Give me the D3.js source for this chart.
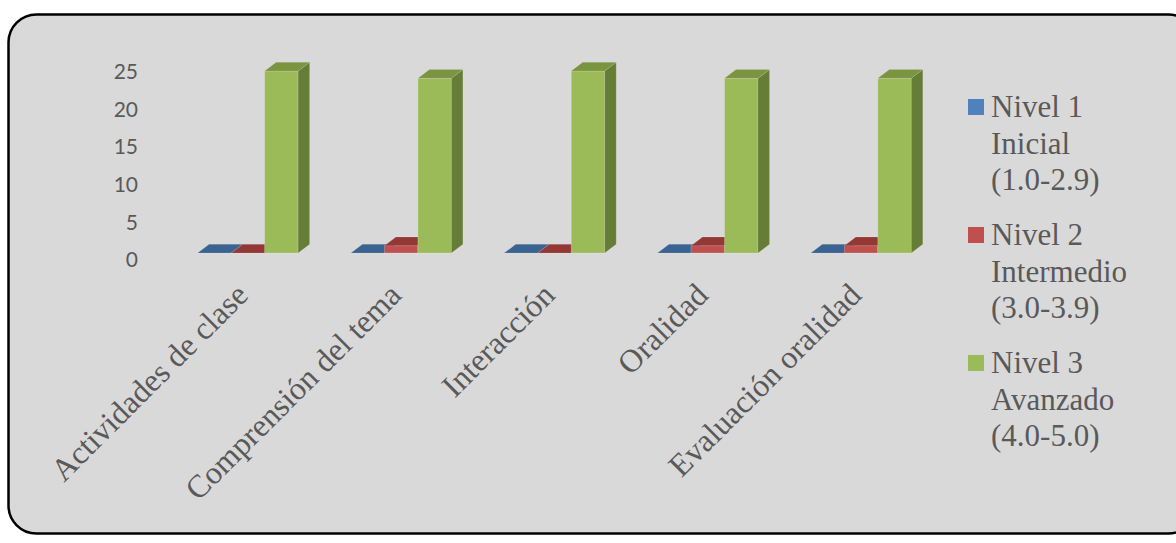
<!DOCTYPE html>
<html>
<head>
<meta charset="utf-8">
<script src="https://cdn.jsdelivr.net/npm/d3@7"></script>
<style>
  html, body { margin: 0; padding: 0; background: #ffffff; }
  svg { display: block; }
</style>
</head>
<body>
<svg id="chart" width="1176" height="543"></svg>
<script>
// Categories and counts per level
const categories = ["Actividades de clase", "Comprensión del tema", "Interacción", "Oralidad", "Evaluación oralidad"];
const nivel1 = [0, 0, 0, 0, 0];
const nivel2 = [0, 1, 0, 1, 1];
const nivel3 = [25, 24, 25, 24, 24];
const seriesKeys = ["n1", "n2", "n3"];
const seriesLabels = [
  ["Nivel 1", "Inicial", "(1.0-2.9)"],
  ["Nivel 2", "Intermedio", "(3.0-3.9)"],
  ["Nivel 3", "Avanzado", "(4.0-5.0)"]
];
const yTicks = [0, 5, 10, 15, 20, 25];

const palette = {
  n1: { front: "#4f81bd", top: "#3b6391", side: "#34587f" },
  n2: { front: "#c0504d", top: "#943836", side: "#7f302e" },
  n3: { front: "#9bbb59", top: "#7a9440", side: "#667d37" }
};
const textGray = "#595959";

const rows = categories.map((c, i) => ({ cat: c, n1: nivel1[i], n2: nivel2[i], n3: nivel3[i] }));

const svg = d3.select("#chart");

// Chart area panel
svg.append("rect")
  .attr("x", 8.5).attr("y", 14.5)
  .attr("width", 1188).attr("height", 519)
  .attr("rx", 28).attr("ry", 28)
  .attr("fill", "#d9d9d9")
  .attr("stroke", "#000").attr("stroke-width", 2.5);

// Scales
const x0 = d3.scaleBand().domain(categories).range([171.2, 937.7]).paddingInner(0).paddingOuter(0);
const x1 = d3.scaleBand().domain(seriesKeys).range([0, 100.5]);
const groupOffset = (x0.bandwidth() - 100.5) / 2;
const y = d3.scaleLinear().domain([0, 25]).range([253, 71]);
const yAxisScale = d3.scaleLinear().domain([0, 25]).range([260, 72]);

// 3D depth offset of the columns
const dx = 11.5, dy = -8.7;

// Value axis labels
const yAxis = d3.axisLeft(yAxisScale).tickValues(yTicks).tickSize(0).tickPadding(0);
const gy = svg.append("g").attr("transform", "translate(138,0)").call(yAxis);
gy.select(".domain").remove();
gy.selectAll("text")
  .attr("fill", textGray)
  .style("font-family", "Lato, 'Open Sans', sans-serif")
  .style("font-size", "21px");

// Columns
const gBars = svg.append("g");
rows.forEach(r => {
  seriesKeys.forEach(k => {
    const bx = x0(r.cat) + groupOffset + x1(k);
    const bw = x1.bandwidth();
    const yt = y(r[k]);
    const yb = y(0);
    const c = palette[k];
    const g = gBars.append("g");
    if (yb - yt > 0.01) {
      g.append("rect")
        .attr("x", bx).attr("y", yt).attr("width", bw).attr("height", yb - yt)
        .attr("fill", c.front)
        .attr("stroke", "rgba(255,255,255,0.25)").attr("stroke-width", 0.8);
      g.append("path")
        .attr("d", `M${bx + bw},${yt} L${bx + bw + dx},${yt + dy} L${bx + bw + dx},${yb + dy} L${bx + bw},${yb} Z`)
        .attr("fill", c.side)
        .attr("stroke", "rgba(255,255,255,0.2)").attr("stroke-width", 0.6);
    }
    g.append("path")
      .attr("d", `M${bx},${yt} L${bx + bw},${yt} L${bx + bw + dx},${yt + dy} L${bx + dx},${yt + dy} Z`)
      .attr("fill", c.top)
      .attr("stroke", "rgba(255,255,255,0.2)").attr("stroke-width", 0.6);
  });
});

// Category labels, rotated
svg.append("g").selectAll("text")
  .data(categories)
  .join("text")
  .attr("transform", d => `translate(${x0(d) + x0.bandwidth() / 2 + 2},297) rotate(-45)`)
  .attr("text-anchor", "end")
  .attr("fill", textGray)
  .style("font-family", "'Liberation Serif', 'Times New Roman', serif")
  .style("font-size", "32px")
  .text(d => d);

// Legend
const legend = svg.append("g");
seriesKeys.forEach((k, i) => {
  const base = 117 + i * 128;
  legend.append("rect")
    .attr("x", 968).attr("y", base - 18)
    .attr("width", 16).attr("height", 16)
    .attr("fill", palette[k].front);
  seriesLabels[i].forEach((line, j) => {
    legend.append("text")
      .attr("x", 991).attr("y", base + j * 36.5)
      .attr("fill", textGray)
      .style("font-family", "'Liberation Serif', 'Times New Roman', serif")
      .style("font-size", "31px")
      .text(line);
  });
});
</script>
</body>
</html>
